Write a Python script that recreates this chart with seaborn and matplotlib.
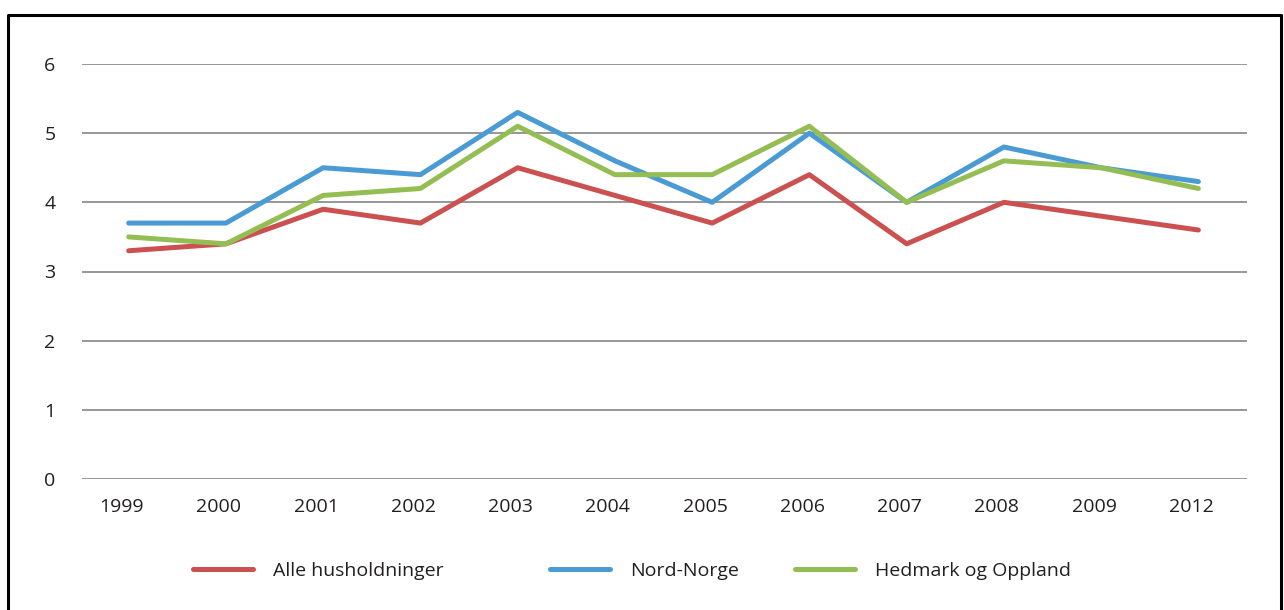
import pandas as pd
import seaborn as sns
import matplotlib.pyplot as plt
import matplotlib.transforms as mtransforms
from matplotlib.lines import Line2D

years = ["1999", "2000", "2001", "2002", "2003", "2004", "2005", "2006", "2007", "2008", "2009", "2012"]
alle = [3.3, 3.4, 3.9, 3.7, 4.5, 4.1, 3.7, 4.4, 3.4, 4.0, 3.8, 3.6]
nord_norge = [3.7, 3.7, 4.5, 4.4, 5.3, 4.6, 4.0, 5.0, 4.0, 4.8, 4.5, 4.3]
hedmark = [3.5, 3.4, 4.1, 4.2, 5.1, 4.4, 4.4, 5.1, 4.0, 4.6, 4.5, 4.2]

series_names = ["Alle husholdninger", "Nord-Norge", "Hedmark og Oppland"]
colors = ["#CB5150", "#4A9AD4", "#94BE54"]

df = pd.concat([
    pd.DataFrame({"year": years, "value": alle, "serie": series_names[0]}),
    pd.DataFrame({"year": years, "value": nord_norge, "serie": series_names[1]}),
    pd.DataFrame({"year": years, "value": hedmark, "serie": series_names[2]}),
])

sns.set_theme(style="white")
plt.rcParams["font.family"] = ["Open Sans", "DejaVu Sans"]

W, H = 1284, 610
fig = plt.figure(figsize=(W / 100, H / 100), dpi=100)
# plot area in pixels: x 82..1247, y 64..479
ax = fig.add_axes([82 / W, 1 - 479 / H, (1247 - 82) / W, (479 - 64) / H])

sns.lineplot(data=df, x="year", y="value", hue="serie", hue_order=series_names,
             palette=colors, linewidth=3.6, sort=False, ax=ax, legend=False)

ax.set_ylim(0, 6)
ax.set_xlim(-0.48, 11.5)
ax.set_yticks(range(0, 7))
ax.yaxis.grid(True, color="#7a7a7a", linewidth=1.1)
ax.set_axisbelow(True)
for s in ax.spines.values():
    s.set_visible(False)
ax.set_xlabel("")
ax.set_ylabel("")
ax.tick_params(axis="both", length=0, labelsize=14, colors="#231f20")
ax.tick_params(axis="y", pad=19)
ax.tick_params(axis="x", pad=14)

# year labels sit a little left of their points in the original
shift = mtransforms.ScaledTranslation(-0.07, 0, fig.dpi_scale_trans)
for lbl in ax.get_xticklabels():
    lbl.set_transform(lbl.get_transform() + shift)

# legend entries, placed one by one like the original
legend_x = [193, 550, 795]
for name, c, x in zip(series_names, colors, legend_x):
    h = Line2D([], [], color=c, linewidth=3.6, solid_capstyle="round")
    leg = fig.legend([h], [name], loc="center left", bbox_to_anchor=(x / W, 1 - 571 / H),
                     frameon=False, fontsize=14, handlelength=3.1, handletextpad=1.0,
                     borderpad=0, borderaxespad=0)
    for t in leg.get_texts():
        t.set_color("#231f20")

# frame around the figure (left, top, right)
fx0, fx1, fy1 = 8 / W, 1281 / W, 1 - 15 / H
fig.add_artist(Line2D([fx0, fx0, fx1, fx1], [0, fy1, fy1, 0], transform=fig.transFigure,
                      color="black", linewidth=2.2))

fig.savefig("out.png", dpi=100)
